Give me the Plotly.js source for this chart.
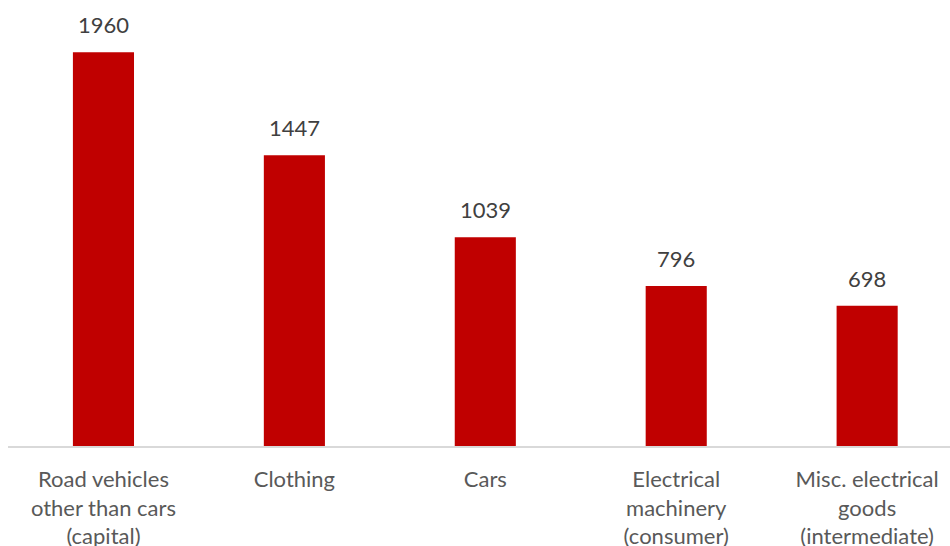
<!DOCTYPE html>
<html>
<head>
<meta charset="utf-8">
<script src="https://cdn.plot.ly/plotly-3.0.1.min.js"></script>
<style>html,body{margin:0;padding:0;background:#fff;}#chart{width:950px;height:546px;}</style>
</head>
<body>
<div id="chart"></div>
<script>
const categories = [
  "Road vehicles<br>other than cars<br>(capital)",
  "Clothing",
  "Cars",
  "Electrical<br>machinery<br>(consumer)",
  "Misc. electrical<br>goods<br>(intermediate)"
];
const values = [1960, 1447, 1039, 796, 698];

const FONT = "Lato, 'Liberation Sans', Arial, sans-serif";

const trace = {
  type: 'bar',
  x: categories,
  y: values,
  marker: {color: '#C00000'},
  width: 0.32,
  hoverinfo: 'none'
};

const annotations = categories.map((c, i) => ({
  x: c, y: values[i], xref: 'x', yref: 'y',
  text: String(values[i]),
  showarrow: false, yanchor: 'bottom', yshift: 12,
  font: {family: FONT, size: 22, color: '#404040'}
}));

const layout = {
  width: 950, height: 546,
  margin: {l: 8, r: 0, t: 4, b: 100},
  paper_bgcolor: '#fff', plot_bgcolor: '#fff',
  showlegend: false,
  xaxis: {
    type: 'category',
    range: [-0.5, 4.434],
    showline: true, linecolor: '#d9d9d9', linewidth: 1.5,
    ticks: '', showgrid: false, zeroline: false,
    tickfont: {family: FONT, size: 22, color: '#595959'},
    ticklabelstandoff: 13
  },
  yaxis: {
    range: [0, 2200], visible: false, showgrid: false, zeroline: false
  },
  annotations: annotations
};

Plotly.newPlot('chart', [trace], layout, {displayModeBar: false, staticPlot: true});
</script>
</body>
</html>
